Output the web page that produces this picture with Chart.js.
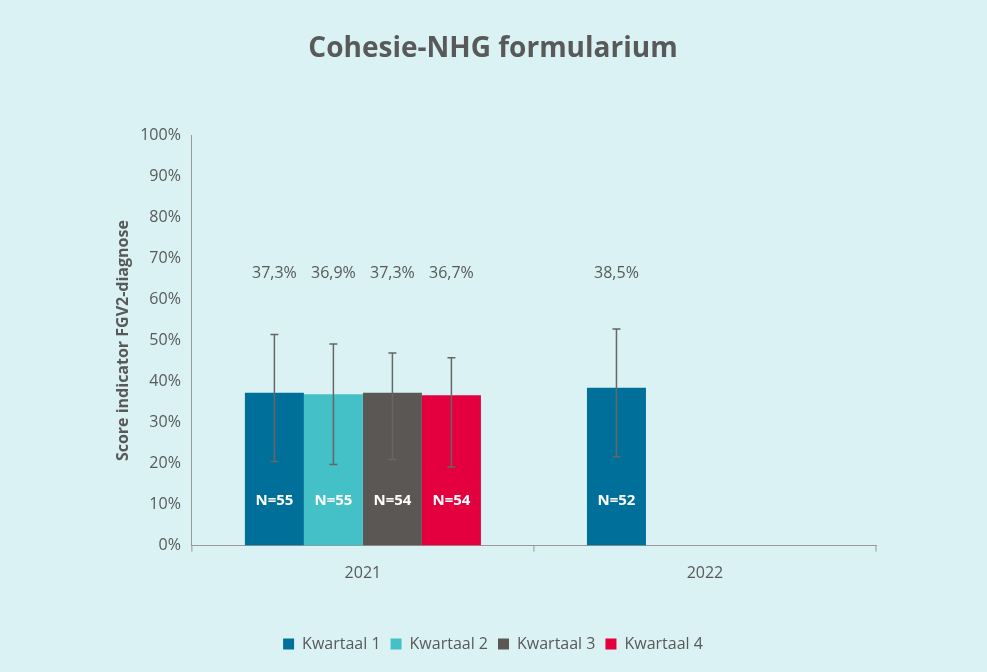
<!DOCTYPE html>
<html><head><meta charset="utf-8">
<script src="https://cdn.jsdelivr.net/npm/chart.js@4"></script>
<style>html,body{margin:0;background:#DAF2F3;}#w{width:987px;height:672px;}</style>
</head><body><div id="w"><canvas id="c"></canvas></div>
<script>
const categories = ["2021", "2022"];
const seriesNames = ["Kwartaal 1", "Kwartaal 2", "Kwartaal 3", "Kwartaal 4"];
const q1 = [37.3, 38.5];
const q2 = [36.9, null];
const q3 = [37.3, null];
const q4 = [36.7, null];
const errLow = [[20.5, 21.7], [19.8, null], [21.0, null], [19.2, null]];
const errHigh = [[51.5, 52.8], [49.2, null], [47.0, null], [45.8, null]];
const nLabels = [["N=55", "N=52"], ["N=55", null], ["N=54", null], ["N=54", null]];
const yTicks = [0,10,20,30,40,50,60,70,80,90,100];
const colors = ["#00709A", "#43C1C6", "#5B5755", "#E4003E"];
const txt = "#595959";
const font = "'Open Sans', 'Liberation Sans', sans-serif";

const overlay = {
  id: 'overlay',
  afterDatasetsDraw(chart) {
    const ctx = chart.ctx, y = chart.scales.y, xs = chart.scales.x;
    // category separator ticks on x axis
    ctx.save();
    ctx.strokeStyle = "#999"; ctx.lineWidth = 1;
    [xs.left, (xs.left + xs.right) / 2, xs.right].forEach(px => {
      ctx.beginPath(); ctx.moveTo(px, y.bottom); ctx.lineTo(px, y.bottom + 6); ctx.stroke();
    });
    ctx.restore();
    chart.data.datasets.forEach((ds, di) => {
      const meta = chart.getDatasetMeta(di);
      meta.data.forEach((bar, i) => {
        const v = ds.data[i];
        if (v == null) return;
        const x = bar.x;
        const yl = y.getPixelForValue(errLow[di][i]), yh = y.getPixelForValue(errHigh[di][i]);
        ctx.save();
        ctx.strokeStyle = "#666"; ctx.lineWidth = 1.5;
        ctx.beginPath();
        ctx.moveTo(x, yl); ctx.lineTo(x, yh);
        ctx.moveTo(x-4, yl); ctx.lineTo(x+4, yl);
        ctx.moveTo(x-4, yh); ctx.lineTo(x+4, yh);
        ctx.stroke();
        ctx.fillStyle = txt; ctx.font = "16px " + font;
        ctx.textAlign = "center"; ctx.textBaseline = "middle";
        ctx.fillText(v.toFixed(1).replace('.', ',') + "%", x, y.getPixelForValue(66.5));
        ctx.fillStyle = "#fff"; ctx.font = "bold 15px " + font;
        ctx.fillText(nLabels[di][i], x, y.getPixelForValue(11));
        ctx.restore();
      });
    });
  }
};

new Chart(document.getElementById('c'), {
  type: 'bar',
  data: {
    labels: categories,
    datasets: [q1, q2, q3, q4].map((d, i) => ({
      label: seriesNames[i], data: d, backgroundColor: colors[i],
      categoryPercentage: 0.69, barPercentage: 1.0, skipNull: false
    }))
  },
  options: {
    responsive: true, maintainAspectRatio: false, animation: false,
    layout: { padding: { left: 110, right: 111, top: 14, bottom: 10 } },
    plugins: {
      title: { display: true, text: "Cohesie-NHG formularium", color: txt,
        font: { family: font, size: 28, weight: 'bold' }, padding: { top: 18, bottom: 70 } },
      legend: { position: 'bottom', labels: { color: txt, boxWidth: 11, boxHeight: 11,
        font: { family: font, size: 16 }, padding: 10 } },
      tooltip: { enabled: false }
    },
    scales: {
      x: { grid: { display: false }, border: { color: "#999" },
        title: { display: true, text: " ", font: { size: 16 }, padding: { top: 14, bottom: 0 } },
        ticks: { color: txt, font: { family: font, size: 16 }, padding: 10 } },
      y: { min: 0, max: 100, grid: { display: false }, border: { color: "#999" },
        afterBuildTicks: a => { a.ticks = yTicks.map(v => ({ value: v })); },
        title: { display: true, text: "Score indicator FGV2-diagnose", color: txt,
          font: { family: font, size: 16, weight: 'bold' } },
        ticks: { color: txt, font: { family: font, size: 16 }, callback: v => v + "%" } }
    }
  },
  plugins: [overlay]
});
</script></body></html>
